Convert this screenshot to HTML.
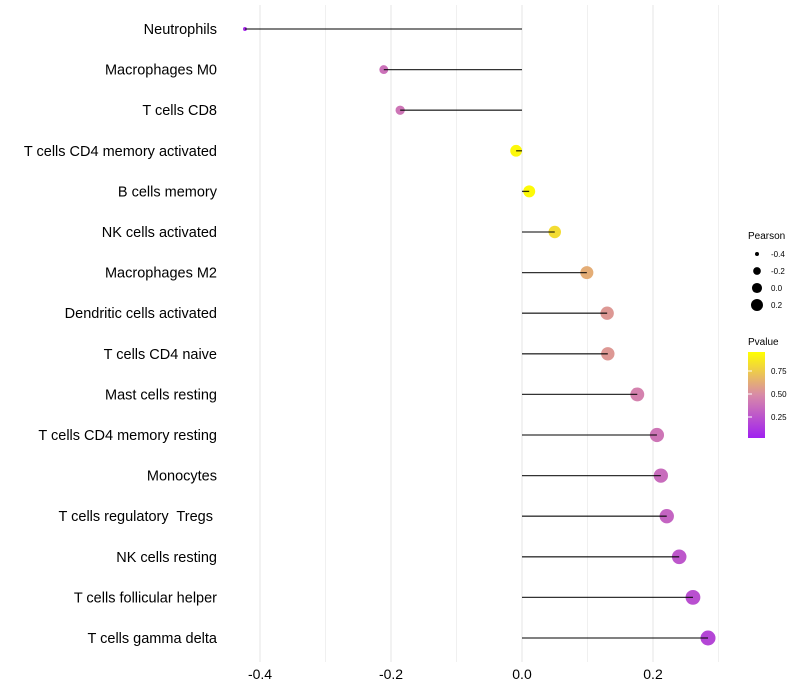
<!DOCTYPE html>
<html><head><meta charset="utf-8">
<style>
body{margin:0;background:#fff;}
svg{display:block;font-family:"Liberation Sans",Arial,sans-serif;}
</style></head>
<body>
<svg id="chart" width="800" height="700" xmlns="http://www.w3.org/2000/svg">
<defs>
<linearGradient id="pgrad" x1="0" y1="1" x2="0" y2="0">
<stop offset="0" stop-color="#a020f0"/>
<stop offset="0.5" stop-color="#d88aa8"/>
<stop offset="1" stop-color="#ffff00"/>
</linearGradient>
</defs>
<g id="grid"></g>
<g id="marks"></g>
<g id="ylabels"></g>
<g id="xlabels"></g>
<g id="legend">
<text x="748" y="239" font-size="10" fill="#000">Pearson</text>
<g id="size-legend"></g>
<text x="748" y="345" font-size="10" fill="#000">Pvalue</text>
<rect x="748" y="352" width="17" height="86" fill="url(#pgrad)"/>
<g id="color-legend"></g>
</g>
</svg>
<script>
const categories = ["Neutrophils","Macrophages M0","T cells CD8","T cells CD4 memory activated","B cells memory","NK cells activated","Macrophages M2","Dendritic cells activated","T cells CD4 naive","Mast cells resting","T cells CD4 memory resting","Monocytes","T cells regulatory  Tregs ","NK cells resting","T cells follicular helper","T cells gamma delta"];
const pearson = [-0.423,-0.211,-0.186,-0.009,0.011,0.050,0.099,0.130,0.131,0.176,0.206,0.212,0.221,0.240,0.261,0.284];
const pvalues = [0.05,0.38,0.40,0.97,0.98,0.85,0.65,0.56,0.56,0.46,0.40,0.36,0.32,0.26,0.22,0.18];
const xTicks = [-0.4,-0.2,0.0,0.2];
const xTickLabels = ["-0.4","-0.2","0.0","0.2"];
const minorTicks = [-0.3,-0.1,0.1,0.3];
const sizeLegendVals = [-0.4,-0.2,0.0,0.2];
const colorLegendVals = [0.25,0.5,0.75];

const NS="http://www.w3.org/2000/svg";
const x = v => 522 + v*655;
const y = i => 29 + i*40.6;
const r = v => Math.sqrt(Math.max(1, 4 + (v+0.42)*74.3));
function lerp(a,b,t){return Math.round(a+(b-a)*t);}
function color(p){
  const s=[[160,32,240],[216,138,168],[255,255,0]];
  let a,b,t;
  if(p<0.5){a=s[0];b=s[1];t=p/0.5;}else{a=s[1];b=s[2];t=(p-0.5)/0.5;}
  return `rgb(${lerp(a[0],b[0],t)},${lerp(a[1],b[1],t)},${lerp(a[2],b[2],t)})`;
}
function mk(tag,attrs,parent){const e=document.createElementNS(NS,tag);for(const k in attrs)e.setAttribute(k,attrs[k]);parent.appendChild(e);return e;}
const grid=document.getElementById('grid'),marks=document.getElementById('marks'),yl=document.getElementById('ylabels'),xl=document.getElementById('xlabels');
minorTicks.forEach(t=>{const l=mk('line',{x1:x(t),x2:x(t),y1:5,y2:662,stroke:'#f0f0f0','stroke-width':1},grid);

});
xTicks.forEach((t,i)=>{const l=mk('line',{x1:x(t),x2:x(t),y1:5,y2:662,stroke:'#e6e6e6','stroke-width':1},grid);


const tx=mk('text',{x:x(t),y:679,'font-size':14,'text-anchor':'middle',fill:'#000'},xl);tx.textContent=xTickLabels[i];

});
categories.forEach((c,i)=>{
  const cy=y(i);
  const pt=mk('circle',{cx:x(pearson[i]),cy:cy,r:r(pearson[i]),fill:color(pvalues[i])},marks);
  
  
  const ln=mk('line',{x1:x(0),x2:x(pearson[i]),y1:cy,y2:cy,stroke:'#000','stroke-opacity':0.8,'stroke-width':1.3},marks);
  
  
  const t=mk('text',{x:217,y:cy+5,'font-size':14.5,'text-anchor':'end',fill:'#000'},yl);
  t.setAttribute('xml:space','preserve');
  t.style.whiteSpace='pre';
  t.textContent=c;
  
  
});
const sl=document.getElementById('size-legend');
sizeLegendVals.forEach((v,i)=>{const cy=254+i*17;
 const c=mk('circle',{cx:757,cy:cy,r:r(v)*0.85,fill:'#000'},sl);
 
 
 const t=mk('text',{x:771,y:cy+3,'font-size':8,fill:'#000'},sl);t.textContent=v.toFixed(1);
 
 });
const cl=document.getElementById('color-legend');
colorLegendVals.forEach(v=>{const cy=440-v*92;
 const l=mk('line',{x1:748,x2:752,y1:cy,y2:cy,stroke:'#fff','stroke-width':1},cl);
 
 
 const t=mk('text',{x:771,y:cy+3,'font-size':8,fill:'#000'},cl);t.textContent=v.toFixed(2);
 
 });
</script>
</body></html>
